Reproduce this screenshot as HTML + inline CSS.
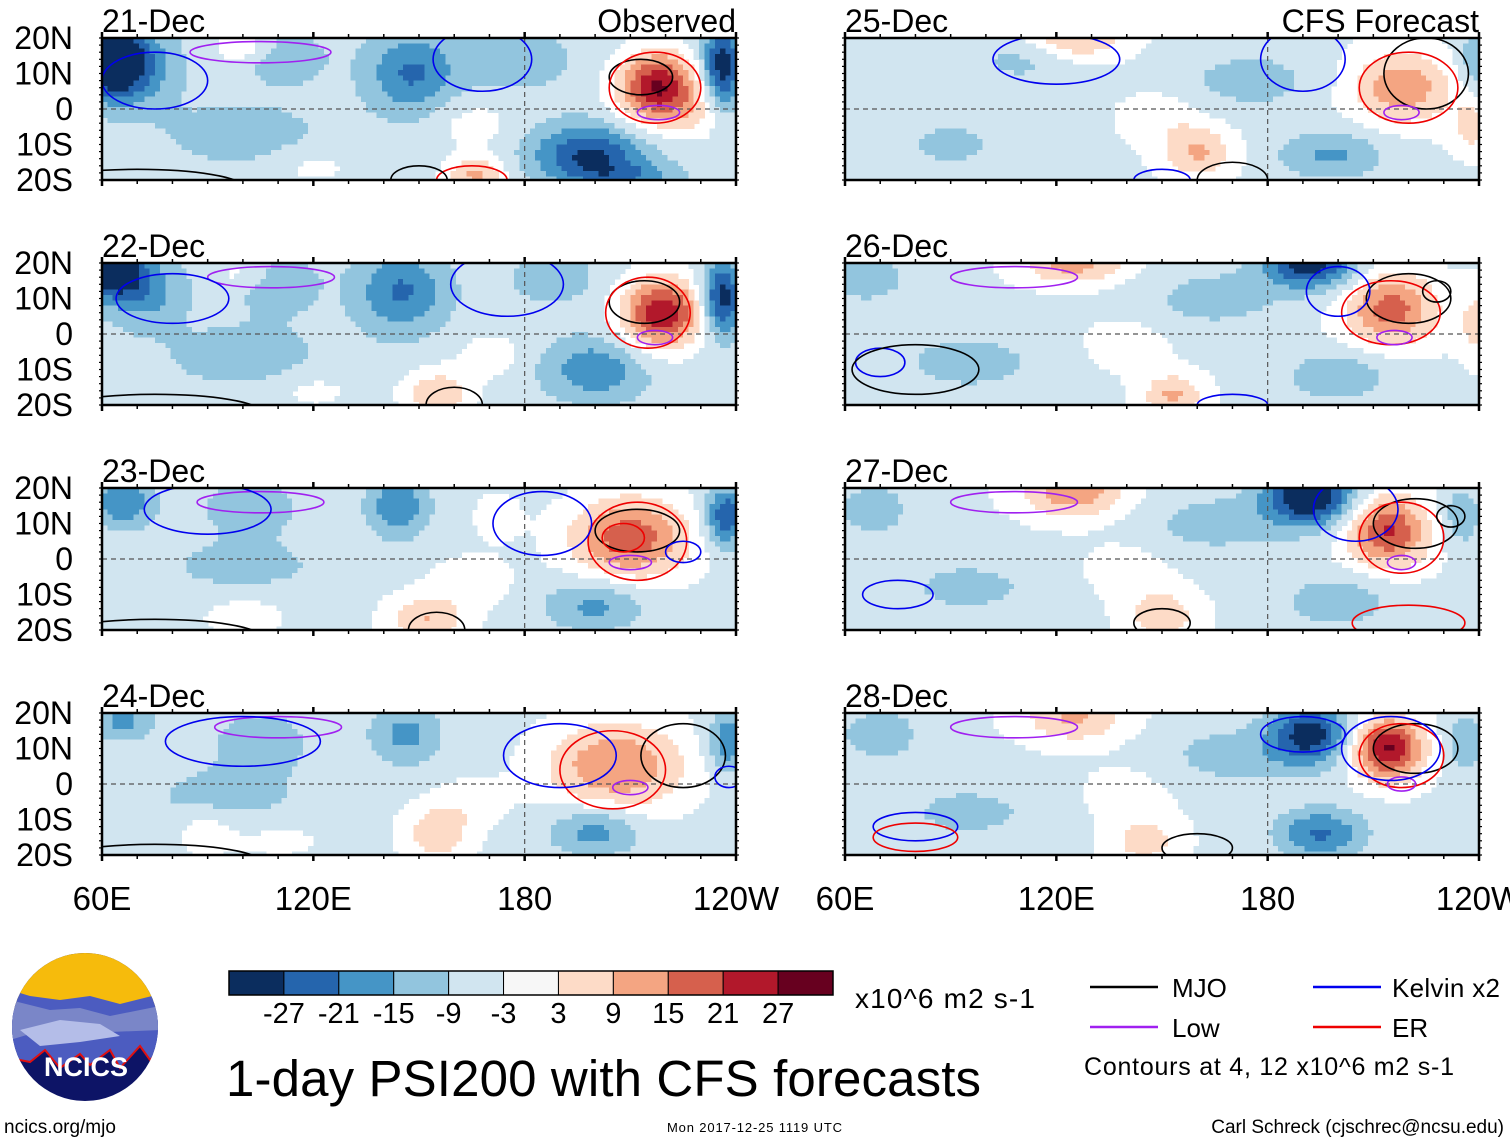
<!DOCTYPE html>
<html><head><meta charset="utf-8"><style>
body{margin:0;background:#fff;}
svg{display:block;font-family:"Liberation Sans",sans-serif;}
</style></head><body>
<svg id="chart" width="1510" height="1142" viewBox="0 0 1510 1142" xmlns="http://www.w3.org/2000/svg">
<g id="panels"></g>
<g id="legend">
  <g id="colorbar"></g>
  <text x="855" y="1008" font-size="28" textLength="180">x10^6 m2 s-1</text>
  <line x1="1090" y1="987" x2="1158" y2="987" stroke="#000" stroke-width="2.5"/>
  <text x="1172" y="997" font-size="26">MJO</text>
  <line x1="1313" y1="987" x2="1381" y2="987" stroke="#0000ee" stroke-width="2.5"/>
  <text x="1392" y="997" font-size="26" textLength="108">Kelvin x2</text>
  <line x1="1090" y1="1027" x2="1158" y2="1027" stroke="#a020f0" stroke-width="2.5"/>
  <text x="1172" y="1037" font-size="26">Low</text>
  <line x1="1313" y1="1027" x2="1381" y2="1027" stroke="#ee0000" stroke-width="2.5"/>
  <text x="1392" y="1037" font-size="26">ER</text>
  <text x="1084" y="1075" font-size="25" textLength="370">Contours at 4, 12 x10^6 m2 s-1</text>
</g>
<text x="226" y="1096" font-size="51" textLength="755">1-day PSI200 with CFS forecasts</text>
<text x="4" y="1133" font-size="19">ncics.org/mjo</text>
<text x="667" y="1132" font-size="13" textLength="175">Mon 2017-12-25 1119 UTC</text>
<text x="1504" y="1133" font-size="19" text-anchor="end">Carl Schreck (cjschrec@ncsu.edu)</text>
<g>
  <defs><clipPath id="lc"><ellipse cx="85" cy="1027" rx="73" ry="74"/></clipPath></defs>
  <g clip-path="url(#lc)">
    <rect x="10" y="950" width="150" height="160" fill="#0d1466"/>
    <rect x="10" y="950" width="150" height="60" fill="#f6bb0c"/>
    <path d="M10,990 L30,996 L60,1000 L90,996 L120,1004 L160,994 L160,1050 L150,1060 L140,1046 L120,1068 L110,1050 L90,1065 L80,1054 L60,1068 L45,1050 L30,1062 L10,1058 Z" fill="#4c5cc0"/>
    <path d="M10,1000 L50,1010 L80,1008 L110,1016 L160,1006 L160,1030 L110,1032 L70,1040 L30,1034 L10,1040Z" fill="#7a86c8"/>
    <path d="M20,1030 L60,1020 L100,1024 L120,1036 L80,1042 L40,1046Z" fill="#b4bde8"/>
    <path d="M10,1058 L30,1062 L45,1050 L60,1068 L80,1054 L90,1065 L110,1050 L120,1068 L140,1046 L150,1060 L160,1050" fill="none" stroke="#e01010" stroke-width="2"/>
  </g>
  <text x="86" y="1076" font-size="27" font-weight="bold" fill="#fff" text-anchor="middle">NCICS</text>
</g>
</svg>
<script>
const binEdges=[-27,-21,-15,-9,-3,3,9,15,21,27];
const binColors=['#0b2d5e','#2565ad','#4595c6','#92c5de','#d1e5f0','#f7f7f7','#fddbc7','#f4a582','#d6604d','#b2182b','#67001f'];
const panelDates=['21-Dec','22-Dec','23-Dec','24-Dec','25-Dec','26-Dec','27-Dec','28-Dec'];
const panelTags=['Observed','','','','CFS Forecast','','',''];
const lonTicks=[60,120,180,240];
const lonTickLabels=['60E','120E','180','120W'];
const latTicks=[20,10,0,-10,-20];
const latTickLabels=['20N','10N','0','10S','20S'];
// anomaly blobs per panel: [lon, lat, amplitude, lonWidth, latWidth]
const blobs0=[[62,14,-32,6,7],[70,12,-14,8,8],[112,14,-8,8,5],[148,10,-16,9,8],[178,14,-8,10,6],[218,6,34,8,7],[236,12,-26,4,8],[198,-13,-22,11,6],[166,-19,16,6,4],[100,-7,-7,15,6],[100,17,8,6,3],[165,-4,6,8,5],[230,-2,6,5,5],[120,-16,5,8,4],[210,-19,-10,10,3]];
const blobs1=[[63,18,-30,6,5],[72,12,-12,8,7],[110,14,-8,8,6],[145,12,-16,9,8],[219,6,32,8,7],[236,10,-26,4,7],[200,-10,-14,10,6],[155,-17,14,7,5],[100,-6,-7,15,6],[188,16,-8,8,5],[170,-6,6,7,5],[120,-16,5,8,4],[100,17,6,6,3]];
const blobs2=[[66,16,-16,6,5],[102,15,-8,10,6],[144,15,-16,6,6],[210,6,24,12,8],[237,12,-22,4,6],[200,-13,-12,10,5],[152,-17,14,8,5],[100,-2,-6,18,6],[165,-6,6,8,5],[100,-16,6,8,4],[172,12,5,5,5]];
const blobs3=[[66,18,-12,6,4],[105,12,-8,10,6],[146,14,-12,7,6],[206,5,20,14,9],[238,12,-16,4,6],[200,-13,-14,9,5],[155,-14,12,7,6],[90,-14,8,5,4],[95,-3,-6,18,6],[165,-5,5,7,5],[110,-16,5,8,3]];
const blobs4=[[125,20,14,10,4],[110,14,-7,10,5],[175,8,-8,14,6],[218,6,18,10,7],[240,14,-12,4,6],[160,-12,14,7,5],[198,-13,-12,11,5],[90,-10,-7,12,5],[238,-5,10,4,5],[150,-2,5,8,5]];
const blobs5=[[125,20,16,10,4],[192,20,-28,9,5],[215,7,22,9,7],[165,10,-8,14,6],[240,3,10,4,7],[153,-17,14,6,4],[200,-12,-10,11,5],[95,-8,-8,15,6],[66,16,-10,8,5],[140,-3,5,8,5]];
const blobs6=[[125,19,18,10,5],[192,18,-32,9,6],[214,8,26,8,7],[235,12,-10,4,6],[165,10,-8,14,6],[150,-16,12,7,5],[200,-12,-10,11,5],[68,14,-10,7,5],[95,-8,-7,15,6],[140,-3,5,8,5]];
const blobs7=[[125,19,14,10,5],[192,14,-26,8,6],[214,10,32,7,6],[236,12,-10,4,6],[170,8,-8,14,6],[145,-16,10,7,5],[195,-14,-18,9,5],[70,14,-10,8,5],[95,-8,-7,15,6],[140,-3,5,8,5]];
const panelBlobs=[blobs0,blobs1,blobs2,blobs3,blobs4,blobs5,blobs6,blobs7];
// contours per panel: [type, lon, lat, lonRadius, latRadius]
const contours0=[['mjo',213,9,9,5],['er',217,6,13,10],['low',218,-1,6,2],['low',105,16,20,3],['kelvin',75,8,15,8],['kelvin',168,14,14,9],['mjo',70,-22,30,5],['er',165,-20,10,4],['mjo',150,-20,8,4]];
const contours1=[['mjo',214,9,10,6],['er',215,6,12,10],['low',217,-1,5,2],['low',108,16,18,3],['kelvin',80,10,16,7],['kelvin',175,14,16,9],['mjo',75,-22,30,5],['mjo',160,-20,8,5]];
const contours2=[['mjo',212,8,12,6],['er',212,5,14,11],['er',208,6,6,4],['low',210,-1,6,2],['low',105,16,18,3],['kelvin',90,14,18,7],['kelvin',185,10,14,9],['mjo',75,-22,30,5],['mjo',155,-20,8,5],['kelvin',225,2,5,3]];
const contours3=[['mjo',225,8,12,9],['er',205,4,15,11],['low',210,-1,5,2],['low',110,16,18,3],['kelvin',100,12,22,7],['kelvin',190,8,16,9],['mjo',75,-22,30,5],['kelvin',238,2,4,3]];
const contours4=[['mjo',225,10,12,10],['er',220,6,14,10],['low',218,-1,5,2],['kelvin',120,14,18,7],['kelvin',190,14,12,9],['mjo',170,-20,10,5],['kelvin',150,-20,8,3]];
const contours5=[['mjo',220,10,12,7],['er',215,6,14,9],['low',216,-1,5,2],['kelvin',200,12,9,7],['mjo',228,12,4,3],['low',108,16,18,3],['kelvin',70,-8,7,4],['mjo',80,-10,18,7],['kelvin',170,-20,10,3]];
const contours6=[['mjo',222,10,12,7],['er',218,6,12,10],['low',218,-1,4,2],['kelvin',205,14,12,9],['mjo',232,12,4,3],['low',108,16,18,3],['kelvin',75,-10,10,4],['er',220,-18,16,5],['mjo',150,-18,8,4]];
const contours7=[['mjo',222,10,12,7],['er',218,8,12,9],['low',218,0,4,2],['kelvin',215,10,14,9],['kelvin',190,14,12,5],['low',108,16,18,3],['kelvin',80,-12,12,4],['er',80,-15,12,4],['mjo',160,-18,10,4]];
const panelContours=[contours0,contours1,contours2,contours3,contours4,contours5,contours6,contours7];
const baseline=[-6,-6,-5,-5,-4,-4,-4,-4];
const contourColors={mjo:'#000',kelvin:'#0000ee',low:'#a020f0',er:'#ee0000'};

const NS='http://www.w3.org/2000/svg';
function mk(tag,attrs,parent){const e=document.createElementNS(NS,tag);for(const k in attrs)e.setAttribute(k,attrs[k]);parent.appendChild(e);return e;}
const W=634,H=142;
const colX=[102,845],rowY=[38,263,488,713];
function colorFor(v){let i=0;while(i<binEdges.length&&v>=binEdges[i])i++;return binColors[i];}
const panelsG=document.getElementById('panels');
for(let p=0;p<8;p++){
  const x0=colX[p<4?0:1],y0=rowY[p%4];
  const xS=lon=>x0+(lon-60)/180*W;
  const yS=lat=>y0+(20-lat)/40*H;
  const g=mk('g',{},panelsG);
  
  
  const step=1.5;
  const bl=panelBlobs[p];
  const field=mk('g',{'shape-rendering':'crispEdges'},g);
  
  
  for(let lon=60;lon<240-0.01;lon+=step){for(let lat=20;lat>-20+0.01;lat-=step){
    const cl=lon+step/2,ct=lat-step/2;let v=baseline[p];
    for(const b of bl){const dx=(cl-b[0])/b[3],dy=(ct-b[1])/b[4];v+=b[2]*Math.exp(-(dx*dx+dy*dy)/2);}
    const c=colorFor(v);if(c==='#f7f7f7')continue;
    mk('rect',{x:xS(lon).toFixed(1),y:yS(lat).toFixed(1),width:(W*step/180+0.6).toFixed(1),height:(Math.min(H*step/40,y0+H-yS(lat))+0.6).toFixed(1),fill:c},field);
  }}
  mk('line',{x1:x0,y1:yS(0),x2:x0+W,y2:yS(0),stroke:'#555','stroke-width':1.2,'stroke-dasharray':'5,4'},g);
  mk('line',{x1:xS(180),y1:y0,x2:xS(180),y2:y0+H,stroke:'#555','stroke-width':1.2,'stroke-dasharray':'5,4'},g);
  const cid='cp'+p;const cp=mk('clipPath',{id:cid},g);mk('rect',{x:x0,y:y0,width:W,height:H},cp);
  const cg=mk('g',{fill:'none','clip-path':'url(#'+cid+')'},g);
  for(const c of panelContours[p]){
    const e=mk('ellipse',{cx:xS(c[1]),cy:yS(c[2]),rx:c[3]/180*W,ry:c[4]/40*H,stroke:contourColors[c[0]],'stroke-width':1.6,fill:'none'},cg);
    
    
  }
  mk('rect',{x:x0,y:y0,width:W,height:H,fill:'none',stroke:'#000','stroke-width':2.5},g);
  for(let lon=60;lon<=240;lon+=10){const big=lonTicks.includes(lon);
    mk('line',{x1:xS(lon),y1:y0+H,x2:xS(lon),y2:y0+H+(big?6:4),stroke:'#000','stroke-width':big?2.5:1.5},g);
    mk('line',{x1:xS(lon),y1:y0,x2:xS(lon),y2:y0-(big?6:4),stroke:'#000','stroke-width':big?2.5:1.5},g);}
  for(let lat=-20;lat<=20;lat+=2){mk('line',{x1:x0,y1:yS(lat),x2:x0-3,y2:yS(lat),stroke:'#000','stroke-width':1.2},g);
    mk('line',{x1:x0+W,y1:yS(lat),x2:x0+W+3,y2:yS(lat),stroke:'#000','stroke-width':1.2},g);}
  const t=mk('text',{x:x0,y:y0-6,'font-size':32},g);t.textContent=panelDates[p];
  
  
  if(panelTags[p]){const tt=mk('text',{x:x0+W,y:y0-6,'font-size':32,'text-anchor':'end'},g);tt.textContent=panelTags[p];
    
    }
  if(p<4){latTicks.forEach((lt,i)=>{const l=mk('text',{x:73,y:yS(lt)+11,'font-size':32,'text-anchor':'end'},g);l.textContent=latTickLabels[i];
    
    });}
  if(p%4===3){lonTickLabels.forEach((lb,i)=>{const l=mk('text',{x:xS(lonTicks[i]),y:910,'font-size':33,'text-anchor':'middle'},g);l.textContent=lb;
    
    });}
}
const cb=document.getElementById('colorbar');
const cbX=229,cbW=604,cbY=971,cbH=24,bw=cbW/binColors.length;
binColors.forEach((c,i)=>{const r=mk('rect',{x:cbX+i*bw,y:cbY,width:bw,height:cbH,fill:c,stroke:'#000','stroke-width':1},cb);
  
  });
mk('rect',{x:cbX,y:cbY,width:cbW,height:cbH,fill:'none',stroke:'#000','stroke-width':1.5},cb);
binEdges.forEach((v,i)=>{const t=mk('text',{x:cbX+(i+1)*bw,y:1023,'font-size':29,'text-anchor':'middle'},cb);t.textContent=v;
  
  });
</script>
</body></html>
